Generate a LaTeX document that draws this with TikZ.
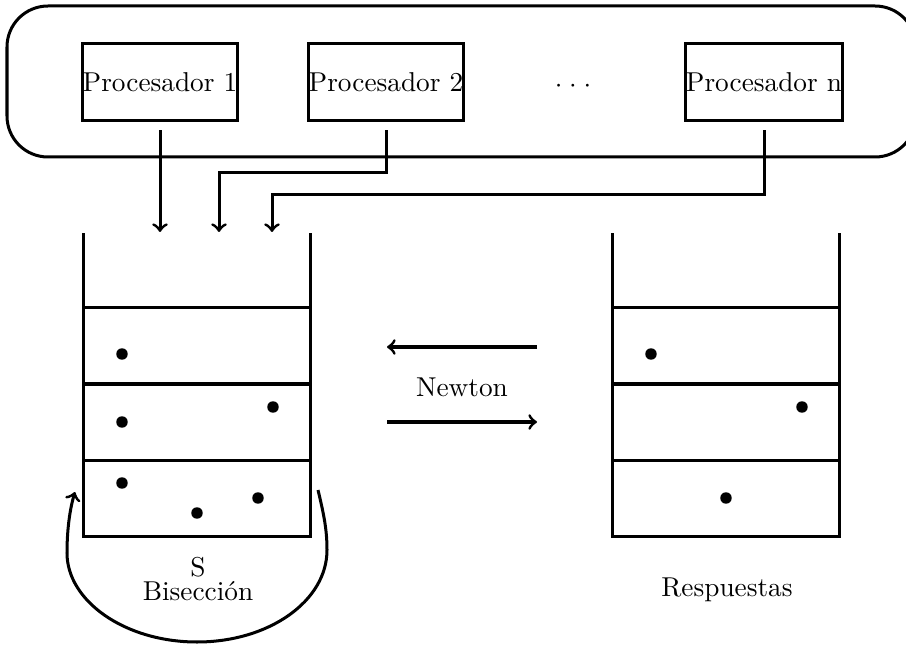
\documentclass[tikz,border=0pt]{standalone}
\usepackage{fontspec}
\usepackage{tikz}
\usetikzlibrary{positioning}

\begin{document}
\begin{tikzpicture}[x=0.3663pt,y=-0.3663pt,line width=1.1pt,
  proc/.style={draw,inner xsep=0pt,minimum height=28.2pt},
  cell/.style={draw,inner sep=0pt,outer sep=0pt,minimum width=83.1pt,minimum height=27.84pt},
  punto/.style={circle,fill,inner sep=0pt,minimum size=4.2pt}]
\useasboundingbox (0,0) rectangle (906,645);
\clip (0,0) rectangle (906,645);
\draw[rounded corners=15pt] (7,6) rectangle (916,157);

\node[proc] (P1) at (160,82) {Procesador 1};
\node[proc] (P2) at (386,82) {Procesador 2};
\node (dots) at (573,86) {${\cdot}\hspace{2.5pt}{\cdot}\hspace{2.5pt}{\cdot}$};
\node[proc] (Pn) at (764,82) {Procesador n};

\node[cell] (S1) at (197,346) {};
\node[cell] (S2) [below=0pt of S1] {};
\node[cell] (S3) [below=0pt of S2] {};
\draw (S1.north west) -- ++(0,-75);
\draw (S1.north east) -- ++(0,-75);

\node[cell] (R1) at (726,346) {};
\node[cell] (R2) [below=0pt of R1] {};
\node[cell] (R3) [below=0pt of R2] {};
\draw (R1.north west) -- ++(0,-75);
\draw (R1.north east) -- ++(0,-75);

\node[punto] at (122,354) {};
\node[punto] at (122,422) {};
\node[punto] at (273,407) {};
\node[punto] at (122,483) {};
\node[punto] at (197,513) {};
\node[punto] at (258,498) {};
\node[punto] at (651,354) {};
\node[punto] at (802,407) {};
\node[punto] at (726,498) {};

\coordinate (E1) at (160,232);
\coordinate (E2) at (219,232);
\coordinate (E3) at (272,232);
\coordinate (K2) at (386,173);
\coordinate (Kn) at (764,195);

\draw[->,shorten <=3pt] (P1.south) -- (E1);
\draw[->,shorten <=3pt] (P2.south) -- (K2) -| (E2);
\draw[->,shorten <=3pt] (Pn.south) -- (Kn) -| (E3);

\node (N) at (462,387) {Newton};
\coordinate (NA) at (537,347);
\coordinate (NB) at (387,347);
\coordinate (NC) at (387,422);
\coordinate (ND) at (537,422);
\draw[->] (NA) -- (NB);
\draw[->] (NC) -- (ND);

\node[align=center] (B) at (198,579) {S\\[-3pt]Bisección};
\node (R) at (727,590) {Respuestas};

\coordinate (LA) at (318,490);
\coordinate (LB) at (75,492);
\draw[->] (LA) .. controls (324,515) and (327,530) .. (327,550)
  .. controls (327,601) and (269,642) .. (197,642)
  .. controls (125,642) and (67,601) .. (67,553)
  .. controls (67,525) and (71,505) .. (LB);
\end{tikzpicture}
\end{document}
